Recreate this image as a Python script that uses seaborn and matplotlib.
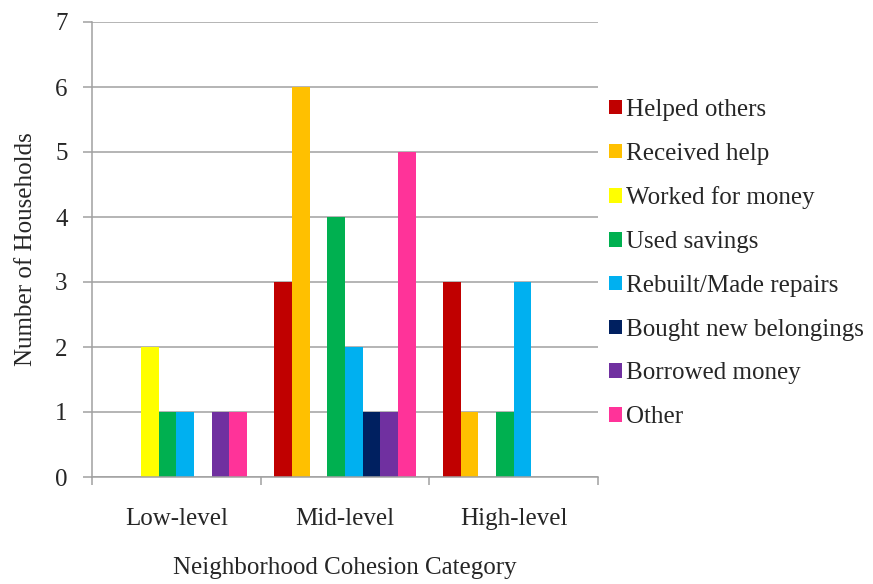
import matplotlib
matplotlib.use("Agg")
import matplotlib.pyplot as plt
import seaborn as sns
import pandas as pd
from matplotlib.patches import Patch

# Coping strategies by neighborhood cohesion level
categories = ["Low-level", "Mid-level", "High-level"]
strategies = [
    "Helped others",
    "Received help",
    "Worked for money",
    "Used savings",
    "Rebuilt/Made repairs",
    "Bought new belongings",
    "Borrowed money",
    "Other",
]
helped_others = [0, 3, 3]
received_help = [0, 6, 1]
worked_for_money = [2, 0, 0]
used_savings = [1, 4, 1]
rebuilt_repairs = [1, 2, 3]
bought_belongings = [0, 1, 0]
borrowed_money = [1, 1, 0]
other = [1, 5, 0]

colors = ["#C00000", "#FFC000", "#FFFF00", "#00B050",
          "#00B0F0", "#002060", "#7030A0", "#FF3399"]

series = [helped_others, received_help, worked_for_money, used_savings,
          rebuilt_repairs, bought_belongings, borrowed_money, other]
rows = []
for name, vals in zip(strategies, series):
    for cat, v in zip(categories, vals):
        rows.append({"Category": cat, "Strategy": name, "Households": v})
df = pd.DataFrame(rows)

sns.set_theme(style="white")
plt.rcParams["font.family"] = ["Liberation Serif", "DejaVu Serif"]

fig = plt.figure(figsize=(8.73, 5.84), dpi=100)
ax = fig.add_axes([92 / 873, 107 / 584, 506 / 873, 455 / 584])

sns.barplot(data=df, x="Category", y="Households", hue="Strategy",
            order=categories, hue_order=strategies, palette=colors,
            width=0.84, gap=0, linewidth=0, saturation=1,
            errorbar=None, legend=False, ax=ax)

grid_col = "#A0A0A0"
ax.set_ylim(0, 7)
ax.set_xlim(-0.5, 2.5)
ax.set_yticks(range(0, 8))
ax.yaxis.grid(True, color=grid_col, linewidth=1.1)
ax.set_axisbelow(True)

for side in ["top", "right"]:
    ax.spines[side].set_visible(False)
for side in ["left", "bottom"]:
    ax.spines[side].set_color(grid_col)
    ax.spines[side].set_linewidth(1.1)

ax.tick_params(axis="y", which="major", length=6.5, width=1.1,
               color=grid_col, pad=11, labelsize=18, left=True)
ax.set_xticks([0, 1, 2])
ax.set_xticks([-0.5, 0.5, 1.5, 2.5], minor=True)
ax.tick_params(axis="x", which="major", length=0, pad=22, labelsize=18)
ax.tick_params(axis="x", which="minor", length=6, width=1.1,
               color=grid_col, bottom=True)

ax.set_xlabel("Neighborhood Cohesion Category", fontsize=18, labelpad=19.5)
ax.set_ylabel("Number of Households", fontsize=18, labelpad=13)

handles = [Patch(facecolor=c, edgecolor="none") for c in colors]
fig.legend(handles, strategies, loc="upper left",
           bbox_to_anchor=(609 / 873, 1 - 99 / 584), frameon=False,
           fontsize=18, handlelength=0.52, handleheight=0.52,
           handletextpad=0.15, labelspacing=0.87, borderpad=0,
           borderaxespad=0)

fig.savefig("out.png", dpi=100)
